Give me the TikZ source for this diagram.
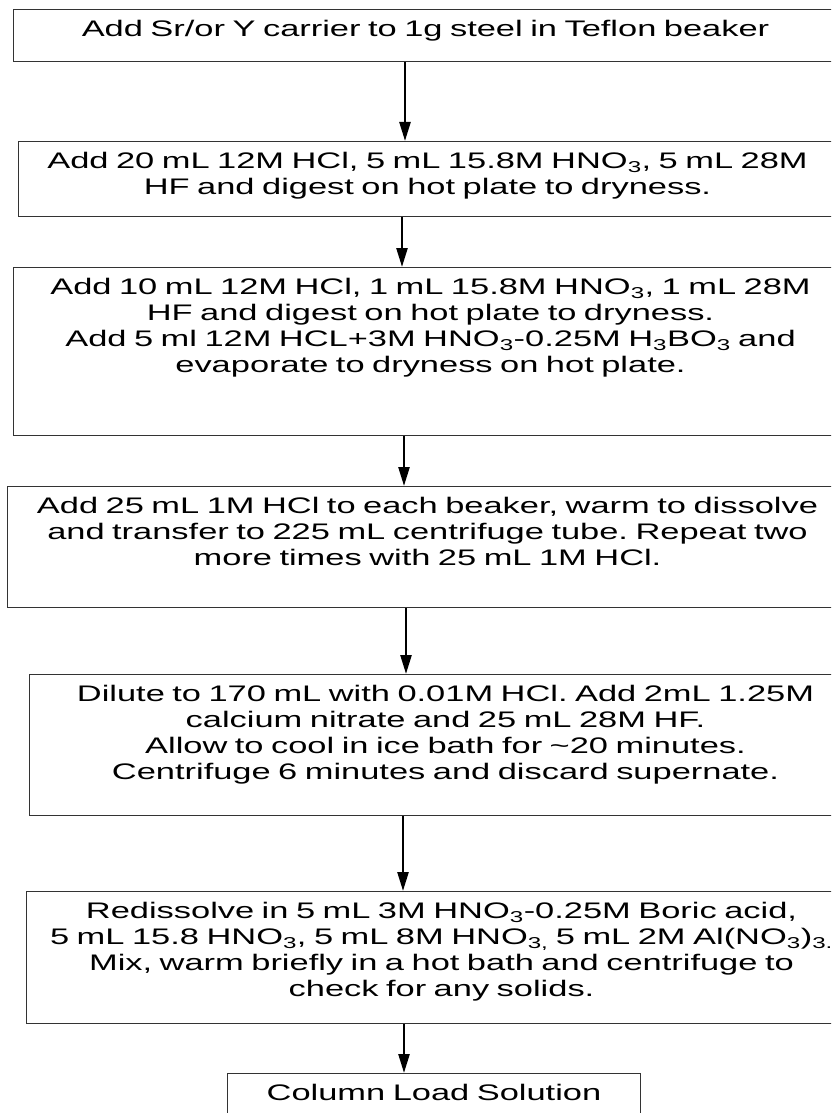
\documentclass[tikz,border=0pt]{standalone}
\usepackage{fontspec}
\setmainfont{Liberation Sans}[FakeStretch=1.53]
\usetikzlibrary{arrows.meta}
\frenchspacing

\begin{document}
\begin{tikzpicture}[x=1pt,y=-1pt,
	stepbox/.style={draw=black!80,line width=1pt,anchor=north west,align=center,inner xsep=0pt,inner ysep=11pt,text height=16pt,font=\fontsize{22.5}{26}\selectfont},
	flow/.style={line width=2.4pt,-{Triangle[length=19pt,width=11pt]}}]
\def\sub#1{\textsubscript{#1}}
\useasboundingbox (0,0) rectangle (831,1113);
\clip (0,0) rectangle (831,1113);

\node[stepbox,text width=824pt,text depth=14pt] (b1) at (13,9) {Add Sr/or Y carrier to 1g steel in Teflon beaker};
\node[stepbox,text width=818pt,text depth=37pt] (b2) at (18,141) {Add 20 mL 12M HCl, 5 mL 15.8M HNO\sub{3}, 5 mL 28M\\HF and digest on hot plate to dryness.};
\node[stepbox,text width=834pt,text depth=130pt] (b3) at (13,267) {Add 10 mL 12M HCl, 1 mL 15.8M HNO\sub{3}, 1 mL 28M\\HF and digest on hot plate to dryness.\\Add 5 ml 12M HCL+3M HNO\sub{3}-0.25M H\sub{3}BO\sub{3} and\\evaporate to dryness on hot plate.};
\node[stepbox,text width=840pt,text depth=83pt] (b4) at (7,486) {Add 25 mL 1M HCl to each beaker, warm to dissolve\\and transfer to 225 mL centrifuge tube. Repeat two\\more times with 25 mL 1M HCl.};
\node[stepbox,text width=832pt,text depth=103pt] (b5) at (29,674) {Dilute to 170 mL with 0.01M HCl. Add 2mL 1.25M\\calcium nitrate and 25 mL 28M HF.\\Allow to cool in ice bath for \textasciitilde20 minutes.\\Centrifuge 6 minutes and discard supernate.};
\node[stepbox,text width=830pt,text depth=94pt] (b6) at (26,891) {Redissolve in 5 mL 3M HNO\sub{3}-0.25M Boric acid,\\5 mL 15.8 HNO\sub{3}, 5 mL 8M HNO\sub{3,} 5 mL 2M Al(NO\sub{3})\sub{3.}\\Mix, warm briefly in a hot bath and centrifuge to\\check for any solids.};
\node[stepbox,text width=413pt,text depth=8pt] (b7) at (227,1073) {Column Load Solution};

\foreach \a/\b/\x in {b1/b2/405,b2/b3/402,b3/b4/404,b4/b5/406,b5/b6/403,b6/b7/404}
	\draw[flow] (\x,0 |- \a.south) -- (\x,0 |- \b.north);
\end{tikzpicture}
\end{document}
